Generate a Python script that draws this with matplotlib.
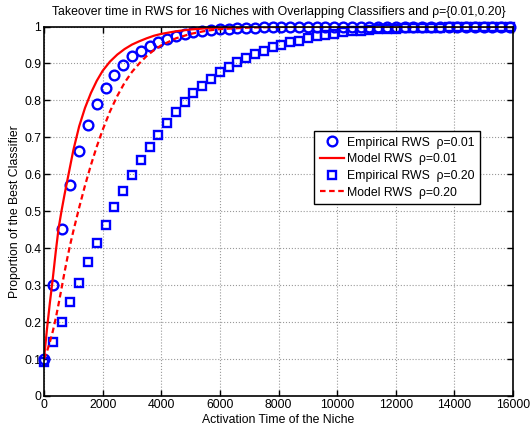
import numpy as np
import matplotlib
matplotlib.use("Agg")
import matplotlib.pyplot as plt

plt.rcParams['font.family'] = ['Liberation Sans', 'DejaVu Sans']
plt.rcParams['font.size'] = 8.8

# empirical runs, one sample every 300 activations
emp_time = np.arange(0, 16000, 300)
emp_rws_001 = [0.100, 0.300, 0.452, 0.571, 0.662, 0.733, 0.789, 0.834, 0.869, 0.897,
               0.919, 0.934, 0.948, 0.958, 0.967, 0.974, 0.980, 0.984, 0.987, 0.990,
               0.992, 0.994, 0.995, 0.996, 0.997, 0.998, 0.998, 0.999, 0.999, 0.999,
               0.999, 0.999, 0.999, 1.000, 1.000, 1.000, 1.000, 1.000, 1.000, 1.000,
               1.000, 1.000, 1.000, 1.000, 1.000, 1.000, 1.000, 1.000, 1.000, 1.000,
               1.000, 1.000, 1.000, 1.000]
emp_rws_020 = [0.093, 0.146, 0.199, 0.254, 0.307, 0.362, 0.413, 0.464, 0.511, 0.556,
               0.599, 0.638, 0.673, 0.707, 0.738, 0.768, 0.795, 0.819, 0.840, 0.858,
               0.876, 0.890, 0.905, 0.916, 0.926, 0.935, 0.944, 0.951, 0.957, 0.962,
               0.968, 0.973, 0.977, 0.981, 0.984, 0.987, 0.989, 0.990, 0.992, 0.993,
               0.994, 0.995, 0.996, 0.996, 0.997, 0.997, 0.998, 0.998, 0.998, 0.999,
               0.999, 0.999, 0.999, 0.999]

# model curves
model_time = [0, 100, 200, 300, 400, 500, 600, 700, 800, 900, 1000, 1200, 1400, 1600,
              1800, 2000, 2250, 2500, 2750, 3000, 3250, 3500, 3750, 4000, 4500, 5000,
              5500, 6000, 7000, 8000, 10000, 12000, 14000, 16000]
model_rws_001 = [0.100, 0.180, 0.252, 0.318, 0.390, 0.455, 0.502, 0.545, 0.585, 0.625,
                 0.665, 0.730, 0.780, 0.820, 0.853, 0.880, 0.905, 0.924, 0.939, 0.951,
                 0.960, 0.968, 0.975, 0.980, 0.987, 0.992, 0.995, 0.997, 0.999, 1.000,
                 1.000, 1.000, 1.000, 1.000]
model_rws_020 = [0.100, 0.120, 0.146, 0.175, 0.210, 0.250, 0.292, 0.335, 0.375, 0.412,
                 0.446, 0.510, 0.570, 0.625, 0.675, 0.720, 0.770, 0.812, 0.848, 0.877,
                 0.900, 0.920, 0.936, 0.949, 0.968, 0.980, 0.988, 0.993, 0.997, 0.999,
                 1.000, 1.000, 1.000, 1.000]

fig = plt.figure(figsize=(5.31, 4.30), dpi=100)
ax = fig.add_axes([44/531, 34/430, 469/531, 369.5/430])

ax.plot(emp_time, emp_rws_001, 'o', color='blue', mfc='none', ms=7, mew=1.7,
        clip_on=False, label='Empirical RWS  ρ=0.01')
ax.plot(model_time, model_rws_001, '-', color='red', lw=1.6,
        label='Model RWS  ρ=0.01')
ax.plot(emp_time, emp_rws_020, 's', color='blue', mfc='none', ms=5.8, mew=1.7,
        clip_on=False, label='Empirical RWS  ρ=0.20')
ax.plot(model_time, model_rws_020, color='red', lw=1.6, linestyle=(0, (2.5, 1.6)),
        label='Model RWS  ρ=0.20')

ax.set_xlim(0, 16000)
ax.set_ylim(0, 1)
ax.set_xticks(np.arange(0, 16001, 2000))
ax.set_yticks(np.arange(0, 1.01, 0.1))
ax.set_yticklabels(['0', '0.1', '0.2', '0.3', '0.4', '0.5', '0.6', '0.7', '0.8', '0.9', '1'])
ax.tick_params(direction='in', top=True, right=True, length=4, width=1, pad=2)
ax.grid(True, linestyle=':', color='#999999', linewidth=0.8)
for s in ax.spines.values():
    s.set_linewidth(1.2)

ax.set_title('Takeover time in RWS for 16 Niches with Overlapping Classifiers and ρ={0.01,0.20}',
             fontsize=8.8, pad=8)
ax.set_xlabel('Activation Time of the Niche', labelpad=2)
ax.set_ylabel('Proportion of the Best Classifier', labelpad=2)

leg = ax.legend(loc='upper left', bbox_to_anchor=(0.576, 0.717), fancybox=False,
                edgecolor='black', framealpha=1, handlelength=2.0, handletextpad=0.2,
                borderpad=0.45, labelspacing=0.38, fontsize=8.8, borderaxespad=0)
leg.get_frame().set_linewidth(1.0)

fig.savefig('out.png', dpi=100)
